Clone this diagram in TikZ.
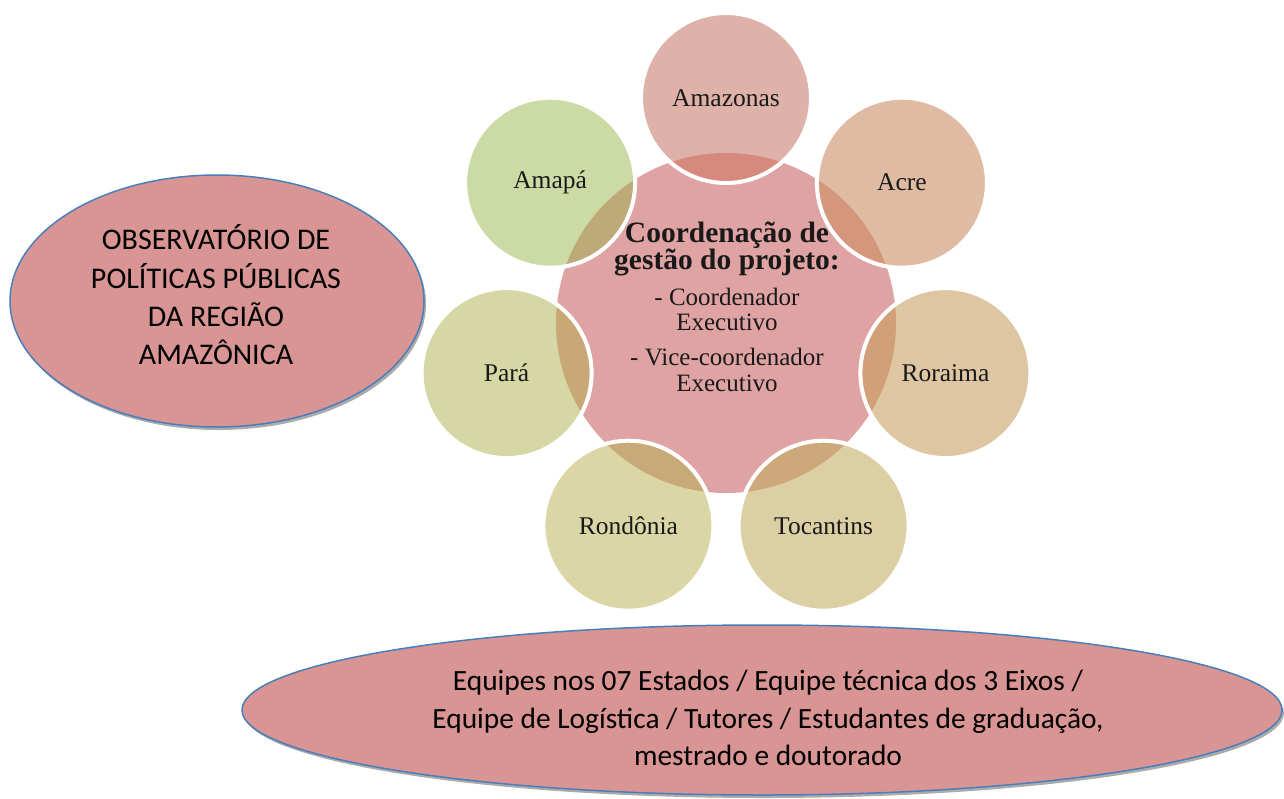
\documentclass[tikz,border=0pt]{standalone}
\usepackage{fontspec}
\setmainfont{Liberation Serif}
\newfontfamily\calib{Carlito}
\usetikzlibrary{shapes.geometric}
\definecolor{cpink}{HTML}{E0A3A4}
\definecolor{ellfill}{HTML}{D99594}
\definecolor{ellblue}{HTML}{4A7EBB}
\definecolor{shad}{HTML}{ABABAB}
\definecolor{cAmaz}{HTML}{DEB2A8}\definecolor{oAmaz}{HTML}{D8897D}
\definecolor{cAcre}{HTML}{E0BBA3}\definecolor{oAcre}{HTML}{D5977C}
\definecolor{cRora}{HTML}{DEC6A3}\definecolor{oRora}{HTML}{D2A078}
\definecolor{cToca}{HTML}{DCCFA4}\definecolor{oToca}{HTML}{CDA87A}
\definecolor{cRond}{HTML}{DAD6A5}\definecolor{oRond}{HTML}{C8AA78}
\definecolor{cPara}{HTML}{D5D8A5}\definecolor{oPara}{HTML}{C8A876}
\definecolor{cAmap}{HTML}{CCDBA5}\definecolor{oAmap}{HTML}{BEAA78}
\begin{document}
\begin{tikzpicture}[x=1pt,y=-1pt,
  state/.style={circle, inner sep=0pt, minimum size=170pt, font=\fontsize{25.5}{28}\selectfont, text=black!90},
  ring/.style={draw=white, line width=4pt},
  ovell/.style={ellipse, draw=ellblue, fill=ellfill, line width=1.5pt, inner sep=0pt},
  ctitle/.style={anchor=base, font=\bfseries\fontsize{29.5}{30}\selectfont, text=black!90},
  cline/.style={anchor=base, font=\fontsize{25}{27}\selectfont, text=black!90},
  eline/.style={anchor=base, font=\calib\fontsize{30}{32}\selectfont, text=black},
  bline/.style={anchor=base, font=\calib\fontsize{29.4}{32}\selectfont, text=black}
]
\useasboundingbox (0,0) rectangle (1284,798);
\fill[white] (0,0) rectangle (1284,798);

% left ellipse
\fill[shad] (219,304) ellipse [x radius=207, y radius=126];
\node[ovell, minimum width=414pt, minimum height=252pt] (obs) at (217,301) {};
\node[eline] (o1) at (216,249) {OBSERVATÓRIO DE};
\node[eline] (o2) at (216,288) {POLÍTICAS PÚBLICAS};
\node[eline] (o3) at (216,326) {DA REGIÃO};
\node[eline] (o4) at (216,364) {AMAZÔNICA};

% bottom ellipse
\fill[shad] (764,713) ellipse [x radius=520, y radius=85];
\node[ovell, minimum width=1040pt, minimum height=170pt] (team) at (762,710) {};
\node[bline] (t1) at (768,690) {Equipes nos 07 Estados / Equipe técnica dos 3 Eixos /};
\node[bline] (t2) at (768,728) {Equipe de Logística / Tutores / Estudantes de graduação,};
\node[bline] (t3) at (768,765) {mestrado e doutorado};

% central circle
\node[circle, fill=cpink, inner sep=0pt, minimum size=340pt] (coord) at (726,323) {};

% outer circles
\foreach \nm/\px/\py/\txt/\fc/\oc in {
  amazonas/726/98/Amazonas/cAmaz/oAmaz,
  acre/901.9/182.7/Acre/cAcre/oAcre,
  roraima/945.4/373.1/Roraima/cRora/oRora,
  tocantins/823.6/525.7/Tocantins/cToca/oToca,
  rondonia/628.4/525.7/Rondônia/cRond/oRond,
  para/506.6/373.1/Pará/cPara/oPara,
  amapa/550.1/182.7/Amapá/cAmap/oAmap}{
  \node[state, fill=\fc] (\nm) at (\px,\py) {};
  \begin{scope}
    \clip (coord.center) circle (170);
    \fill[\oc] (\nm.center) circle (85);
  \end{scope}
  \draw[ring] (\nm.center) circle (85);
  \node[state, minimum size=0pt] (\nm-label) at (\nm.center) {\txt};
}

% central text
\node[ctitle] (c1) at (727,242) {Coordenação de};
\node[ctitle] (c2) at (727,269) {gestão do projeto:};
\node[cline] (c3) at (727,305) {- Coordenador};
\node[cline] (c4) at (727,330) {Executivo};
\node[cline] (c5) at (727,365) {- Vice-coordenador};
\node[cline] (c6) at (727,391) {Executivo};
\end{tikzpicture}
\end{document}
